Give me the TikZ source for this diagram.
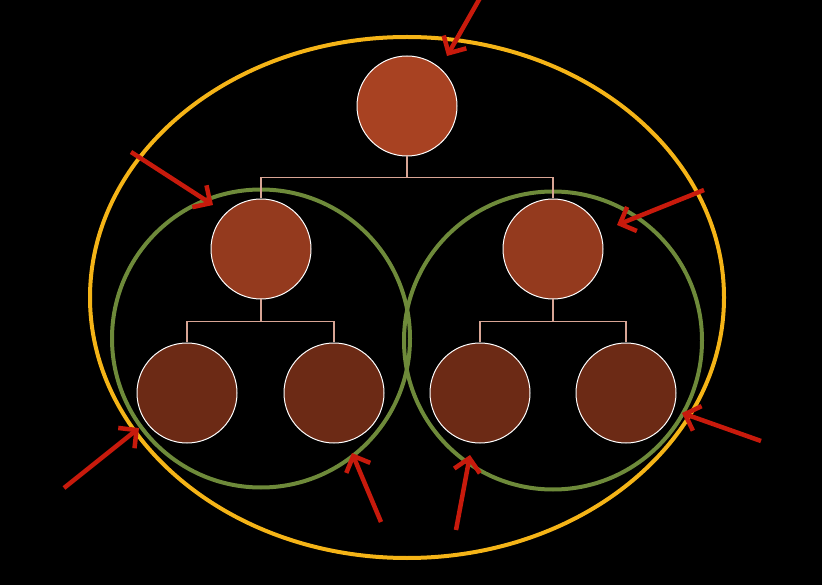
\documentclass[tikz,border=0pt]{standalone}
\usetikzlibrary{arrows.meta}
\definecolor{ringyellow}{HTML}{F5B417}
\definecolor{ringgreen}{HTML}{6E8A3A}
\definecolor{arrowred}{HTML}{C81A0C}
\definecolor{nodeA}{HTML}{A84222}
\definecolor{nodeB}{HTML}{943A1E}
\definecolor{nodeC}{HTML}{6C2A15}
\definecolor{linkcol}{HTML}{D8A595}
\begin{document}
\begin{tikzpicture}[x=1pt,y=-1pt,
  treenode/.style={circle,draw=white,line width=1pt,minimum size=100pt,inner sep=0pt},
  link/.style={draw=linkcol,line width=1.2pt},
  pointer/.style={draw=arrowred,line width=4.5pt,-{Straight Barb[length=13pt,width=26pt]}}]
\fill[black] (0,0) rectangle (822,585);
\useasboundingbox (0,0) rectangle (822,585);
% rings
\draw[ringyellow,line width=4pt] (407,297.5) ellipse [x radius=317, y radius=260.5];
\draw[ringgreen,line width=4pt] (261,338.5) circle [radius=149];
\draw[ringgreen,line width=4pt] (553,340.5) circle [radius=149];
% nodes
\node[treenode,fill=nodeA] (r) at (407,106) {};
\node[treenode,fill=nodeB] (a) at (261,249) {};
\node[treenode,fill=nodeB] (b) at (553,249) {};
\node[treenode,fill=nodeC] (a1) at (187,393) {};
\node[treenode,fill=nodeC] (a2) at (334,393) {};
\node[treenode,fill=nodeC] (b1) at (480,393) {};
\node[treenode,fill=nodeC] (b2) at (626,393) {};
% links
\draw[link] (r.south) -- ++(0,21) -| (a.north);
\draw[link] (r.south) ++(0,21) -| (b.north);
\draw[link] (a.south) -- ++(0,22) -| (a1.north);
\draw[link] (a.south) ++(0,22) -| (a2.north);
\draw[link] (b.south) -- ++(0,22) -| (b1.north);
\draw[link] (b.south) ++(0,22) -| (b2.north);
% arrows
\coordinate (t1) at (480,-2);   \coordinate (h1) at (447,56);
\coordinate (t2) at (131,152);  \coordinate (h2) at (213,205);
\coordinate (t3) at (704,190);  \coordinate (h3) at (617,225);
\coordinate (t4) at (64,488);   \coordinate (h4) at (139,428);
\coordinate (t5) at (381,522);  \coordinate (h5) at (352,453);
\coordinate (t6) at (456,530);  \coordinate (h6) at (470,455);
\coordinate (t7) at (761,441);  \coordinate (h7) at (682,413);
\foreach \i in {1,...,7} \draw[pointer] (t\i) -- (h\i);
\end{tikzpicture}
\end{document}
